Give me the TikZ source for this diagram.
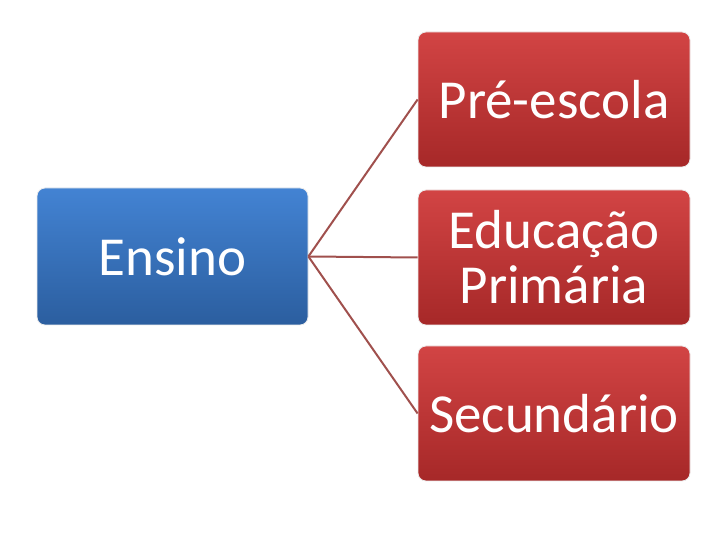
\documentclass[tikz,border=0pt]{standalone}
\usepackage{fontspec}
\setmainfont{Carlito}
\definecolor{blueTop}{HTML}{4383D3}
\definecolor{blueBot}{HTML}{2B5E9F}
\definecolor{redTop}{HTML}{D24444}
\definecolor{redBot}{HTML}{A62828}
\definecolor{linkRed}{HTML}{A0504D}
\begin{document}
\begin{tikzpicture}[x=1pt,y=1pt,
    mainbox/.style={rounded corners=8pt,draw=white!85!gray,line width=0.8pt,
        top color=blueTop,bottom color=blueBot,text=white,
        minimum width=271pt,minimum height=137pt,font=\fontsize{55}{55}\selectfont},
    subbox/.style={rounded corners=8pt,draw=white!85!gray,line width=0.8pt,
        top color=redTop,bottom color=redBot,text=white,align=center,
        minimum width=272pt,minimum height=135pt,font=\fontsize{55}{55}\selectfont},
    link/.style={draw=linkRed,line width=2pt}]
    \useasboundingbox (0,0) rectangle (728,546);
    \node[mainbox] (ensino) at (172.5,289.5) {Ensino};
    \node[subbox] (pre) at (554,446.5) {Pré-escola};
    \node[subbox] (prim) at (554,288.5) {Educação\\Primária};
    \node[subbox] (sec) at (554,132.5) {Secundário};
    \draw[link] (ensino.east) -- (pre.west);
    \draw[link] (ensino.east) -- (prim.west);
    \draw[link] (ensino.east) -- (sec.west);
\end{tikzpicture}
\end{document}
